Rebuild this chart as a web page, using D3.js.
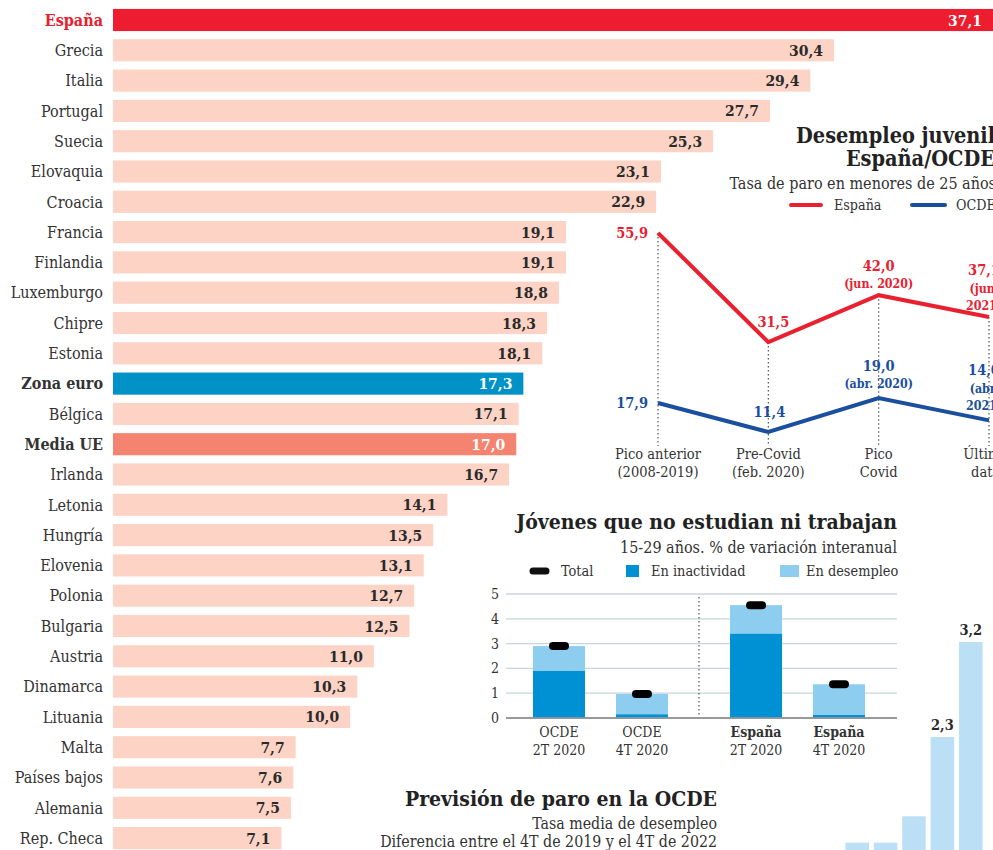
<!DOCTYPE html>
<html><head><meta charset="utf-8">
<script src="https://cdn.jsdelivr.net/npm/d3@7"></script>
<style>
body{margin:0;background:#fff;}
svg{display:block;font-family:'DejaVu Serif Condensed','DejaVu Serif',serif;}
</style></head>
<body><svg id="c" width="993" height="850"></svg>
<script>
// ---- Data: youth unemployment by country ----
const countries = ["España","Grecia","Italia","Portugal","Suecia","Elovaquia","Croacia","Francia","Finlandia","Luxemburgo","Chipre","Estonia","Zona euro","Bélgica","Media UE","Irlanda","Letonia","Hungría","Elovenia","Polonia","Bulgaria","Austria","Dinamarca","Lituania","Malta","Países bajos","Alemania","Rep. Checa"];
const rates = [37.1,30.4,29.4,27.7,25.3,23.1,22.9,19.1,19.1,18.8,18.3,18.1,17.3,17.1,17.0,16.7,14.1,13.5,13.1,12.7,12.5,11.0,10.3,10.0,7.7,7.6,7.5,7.1];

// ---- Data: line chart España / OCDE ----
const lineCats = ["Pico anterior|(2008-2019)","Pre-Covid|(feb. 2020)","Pico|Covid","Últimos|datos"];
const spainSeries = [55.9,31.5,42.0,37.1];
const oecdSeries = [17.9,11.4,19.0,14.0];
const spainNotes = [null,null,["(jun. 2020)"],["(jun.","2021)"]];
const oecdNotes = [null,null,["(abr. 2020)"],["(abr.","2021)"]];

// ---- Data: NEET stacked bars ----
const neetGroups = ["OCDE","España"];
const neetQuarters = ["2T 2020","4T 2020"];
const neetInactividad = [1.9,0.15,3.4,0.12];
const neetDesempleo = [1.0,0.82,1.15,1.24];
const neetTotal = [2.9,0.97,4.55,1.36];
const neetTicks = [0,1,2,3,4,5];

// ---- Data: OCDE forecast ----
const forecastCats = ["a","b","c","d","e"];
const forecastValues = [1.3,1.3,1.55,2.3,3.2];
const forecastLabels = [null,null,null,"2,3","3,2"];

const fmt = v => d3.format(".1f")(v).replace(".", ",");
const svg = d3.select("#c");

// ================= Main horizontal bars =================
const y = d3.scaleBand().domain(countries).range([4.85, 4.85 + 28*30.3]).paddingInner(0.27).paddingOuter(0.135);
const x = d3.scaleLinear().domain([0, 37.1]).range([113, 993]);
const barColor = c => c === "España" ? "#ED1C2E" : c === "Zona euro" ? "#0092C7" : c === "Media UE" ? "#F4836F" : "#FCD3C5";
const special = c => c === "España" || c === "Zona euro" || c === "Media UE";
const main = svg.append("g");
main.selectAll("rect").data(countries).join("rect")
  .attr("x", x(0)).attr("y", d => y(d))
  .attr("width", (d,i) => x(rates[i]) - x(0)).attr("height", y.bandwidth())
  .attr("fill", barColor);
main.selectAll("text.lab").data(countries).join("text").attr("class","lab")
  .attr("x", 103).attr("y", d => y(d) + y.bandwidth()/2).attr("dy","0.36em")
  .attr("text-anchor","end").attr("font-size",16)
  .attr("font-weight", d => special(d) ? "bold" : "normal")
  .attr("fill", d => d === "España" ? "#E8202F" : "#333")
  .text(d => d);
main.selectAll("text.val").data(countries).join("text").attr("class","val")
  .attr("x", (d,i) => x(rates[i]) - 11).attr("y", d => y(d) + y.bandwidth()/2).attr("dy","0.36em")
  .attr("text-anchor","end").attr("font-size",15.5).attr("font-weight","bold")
  .attr("fill", d => special(d) ? "#fff" : "#2a2a2a")
  .text((d,i) => fmt(rates[i]));

// ================= Line chart =================
const lc = svg.append("g");
const lx = d3.scalePoint().domain(lineCats).range([658, 989]);
const ly = d3.scaleLinear().domain([0, 55.9]).range([483, 233]);
const RED = "#E8202F", BLUE = "#1A4E9E";
lc.append("text").attr("x",995).attr("y",143).attr("text-anchor","end").attr("font-size",21.5).attr("font-weight","bold").attr("fill","#222").text("Desempleo juvenil");
lc.append("text").attr("x",995).attr("y",166).attr("text-anchor","end").attr("font-size",21.5).attr("font-weight","bold").attr("fill","#222").text("España/OCDE");
lc.append("text").attr("x",996).attr("y",189).attr("text-anchor","end").attr("font-size",16).attr("fill","#333").text("Tasa de paro en menores de 25 años");
lc.append("line").attr("x1",791).attr("x2",821).attr("y1",205).attr("y2",205).attr("stroke",RED).attr("stroke-width",4).attr("stroke-linecap","round");
lc.append("text").attr("x",834).attr("y",210).attr("font-size",14.2).attr("fill","#333").text("España");
lc.append("line").attr("x1",912).attr("x2",945).attr("y1",205).attr("y2",205).attr("stroke",BLUE).attr("stroke-width",4).attr("stroke-linecap","round");
lc.append("text").attr("x",956).attr("y",210).attr("font-size",14.2).attr("fill","#333").text("OCDE");
// dotted guides
lc.selectAll("line.g").data(lineCats).join("line").attr("class","g")
  .attr("x1", d => lx(d)).attr("x2", d => lx(d))
  .attr("y1", (d,i) => ly(spainSeries[i])).attr("y2", 446)
  .attr("stroke","#555").attr("stroke-width",1.2).attr("stroke-dasharray","1.5,2.5");
const line = d3.line().x((d,i) => lx(lineCats[i])).y(d => ly(d));
lc.append("path").attr("d", line(spainSeries)).attr("fill","none").attr("stroke",RED).attr("stroke-width",4).attr("stroke-linejoin","miter");
lc.append("path").attr("d", line(oecdSeries)).attr("fill","none").attr("stroke",BLUE).attr("stroke-width",4).attr("stroke-linejoin","miter");
// category labels
lineCats.forEach(c => {
  const parts = c.split("|");
  parts.forEach((p,j) => lc.append("text").attr("x", lx(c)).attr("y", 459 + j*18).attr("text-anchor","middle").attr("font-size",14.5).attr("fill","#333").text(p));
});
// value labels
function valueLabels(series, notes, color, isSpain) {
  series.forEach((v,i) => {
    const cx = lx(lineCats[i]), cy = ly(v);
    if (i === 0) {
      lc.append("text").attr("x", cx - 10).attr("y", cy + 5).attr("text-anchor","end").attr("font-size",14.5).attr("font-weight","bold").attr("fill",color).text(fmt(v));
    } else if (i === 1) {
      lc.append("text").attr("x", cx + (isSpain ? 5 : 1)).attr("y", cy - 15).attr("text-anchor","middle").attr("font-size",14.5).attr("font-weight","bold").attr("fill",color).text(fmt(v));
    } else {
      const n = notes[i].length;
      const last = cy - (isSpain ? 7 : 10);
      const top = last - 17.5*n;
      const tx = i === 3 ? cx - 5 : cx;
      lc.append("text").attr("x", tx).attr("y", top).attr("text-anchor","middle").attr("font-size",14.5).attr("font-weight","bold").attr("fill",color).text(fmt(v));
      notes[i].forEach((t,j) => lc.append("text").attr("x", tx).attr("y", top + 17.5 + 17.5*j).attr("text-anchor","middle").attr("font-size",12.3).attr("font-weight","bold").attr("fill",color).text(t));
    }
  });
}
valueLabels(spainSeries, spainNotes, RED, true);
valueLabels(oecdSeries, oecdNotes, BLUE, false);

// ================= NEET stacked bars =================
const nb = svg.append("g");
nb.append("text").attr("x",897).attr("y",529).attr("text-anchor","end").attr("font-size",21).attr("font-weight","bold").attr("fill","#222").text("Jóvenes que no estudian ni trabajan");
nb.append("text").attr("x",897).attr("y",553).attr("text-anchor","end").attr("font-size",16).attr("fill","#333").text("15-29 años. % de variación interanual");
nb.append("line").attr("x1",533).attr("x2",546).attr("y1",571).attr("y2",571).attr("stroke","#111").attr("stroke-width",7).attr("stroke-linecap","round");
nb.append("text").attr("x",561).attr("y",576).attr("font-size",14.4).attr("fill","#333").text("Total");
nb.append("rect").attr("x",626).attr("y",565).attr("width",13).attr("height",12).attr("fill","#0090D4");
nb.append("text").attr("x",651).attr("y",576).attr("font-size",14.4).attr("fill","#333").text("En inactividad");
nb.append("rect").attr("x",780).attr("y",565).attr("width",19).attr("height",12).attr("fill","#8CCDF0");
nb.append("text").attr("x",806).attr("y",576).attr("font-size",14.4).attr("fill","#333").text("En desempleo");

const gx = d3.scaleBand().domain(neetGroups).range([506, 892]).paddingInner(0.315).paddingOuter(0.137);
const qx = d3.scaleBand().domain(neetQuarters).range([0, gx.bandwidth()]).paddingInner(0.373);
const ny = d3.scaleLinear().domain([0,5]).range([718, 594]);
neetTicks.forEach(t => {
  nb.append("line").attr("x1",506).attr("x2",897).attr("y1",ny(t)).attr("y2",ny(t))
    .attr("stroke", t === 0 ? "#777" : "#C8D5DD").attr("stroke-width", t === 0 ? 1.6 : 1.3);
  nb.append("text").attr("x",499).attr("y",ny(t)+5).attr("text-anchor","end").attr("font-size",14).attr("fill","#333").text(t);
});
const sep = (gx("OCDE") + gx.bandwidth() + gx("España"))/2;
nb.append("line").attr("x1",sep).attr("x2",sep).attr("y1",597).attr("y2",717).attr("stroke","#555").attr("stroke-width",1.2).attr("stroke-dasharray","1.5,2.5");
let k = 0;
neetGroups.forEach(g => neetQuarters.forEach(q => {
  const bx = gx(g) + qx(q), bw = qx.bandwidth(), i = k++;
  nb.append("rect").attr("x",bx).attr("width",bw).attr("y",ny(neetInactividad[i]+neetDesempleo[i])).attr("height",ny(neetInactividad[i]) - ny(neetInactividad[i]+neetDesempleo[i])).attr("fill","#8CCDF0");
  nb.append("rect").attr("x",bx).attr("width",bw).attr("y",ny(neetInactividad[i])).attr("height",ny(0)-ny(neetInactividad[i])-0.8).attr("fill","#0090D4");
  nb.append("line").attr("x1",bx+bw/2-6).attr("x2",bx+bw/2+6).attr("y1",ny(neetTotal[i])).attr("y2",ny(neetTotal[i])).attr("stroke","#000").attr("stroke-width",8).attr("stroke-linecap","round");
  const bold = g === "España";
  nb.append("text").attr("x",bx+bw/2).attr("y",737).attr("text-anchor","middle").attr("font-size",14).attr("font-weight",bold?"bold":"normal").attr("fill","#333").text(g);
  nb.append("text").attr("x",bx+bw/2).attr("y",755).attr("text-anchor","middle").attr("font-size",14).attr("fill","#333").text(q);
}));

// ================= OCDE forecast =================
const fc = svg.append("g");
fc.append("text").attr("x",717).attr("y",806).attr("text-anchor","end").attr("font-size",21).attr("font-weight","bold").attr("fill","#222").text("Previsión de paro en la OCDE");
fc.append("text").attr("x",717).attr("y",829).attr("text-anchor","end").attr("font-size",15.8).attr("fill","#333").text("Tasa media de desempleo");
fc.append("text").attr("x",717).attr("y",847).attr("text-anchor","end").attr("font-size",15.8).attr("fill","#333").text("Diferencia entre el 4T de 2019 y el 4T de 2022");
const fx = d3.scaleBand().domain(forecastCats).range([843, 985]).paddingInner(0.17).paddingOuter(0.085);
const fy = d3.scaleLinear().domain([0, 3.2]).range([980, 642]);
fc.selectAll("rect").data(forecastCats).join("rect")
  .attr("x", d => fx(d)).attr("width", fx.bandwidth())
  .attr("y", (d,i) => fy(forecastValues[i])).attr("height", (d,i) => fy(0) - fy(forecastValues[i]))
  .attr("fill","#BBDFF4");
fc.selectAll("text.v").data(forecastCats).join("text").attr("class","v")
  .attr("x", d => fx(d) + fx.bandwidth()/2).attr("y", (d,i) => fy(forecastValues[i]) - 7)
  .attr("text-anchor","middle").attr("font-size",14.5).attr("font-weight","bold").attr("fill","#2a2a2a")
  .text((d,i) => forecastLabels[i] || "");
</script></body></html>
